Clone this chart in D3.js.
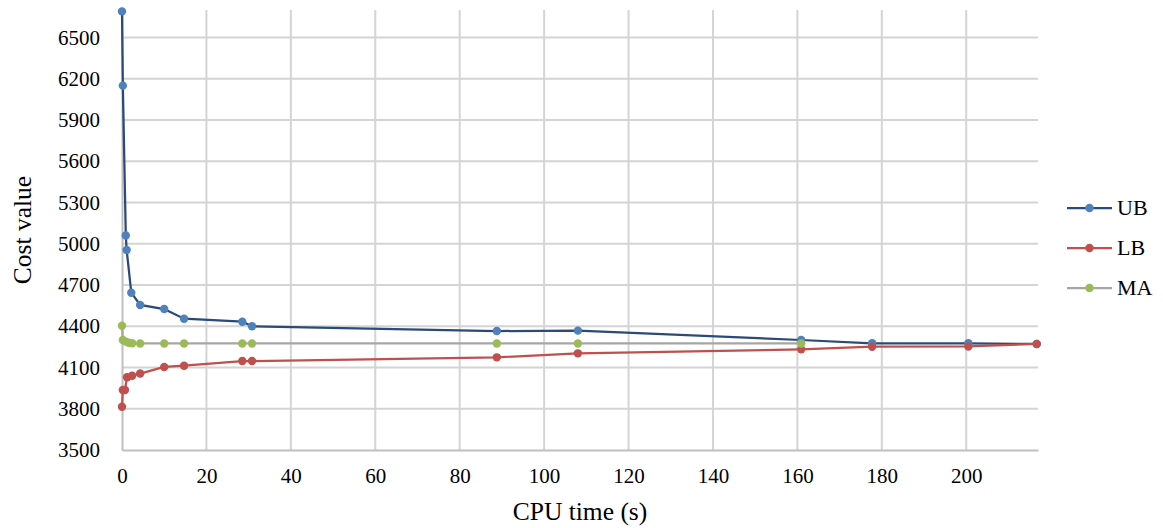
<!DOCTYPE html>
<html>
<head>
<meta charset="utf-8">
<script src="https://cdn.jsdelivr.net/npm/d3@7"></script>
<style>
  html, body { margin: 0; padding: 0; background: #ffffff; }
  svg { display: block; }
  svg text { fill: #000; }
</style>
</head>
<body>
<svg id="chart" width="1163" height="528"></svg>
<script>
// ---- data ----
const timeUB = [0, 0.2, 0.9, 1.1, 2.2, 4.3, 10, 14.7, 28.5, 30.8, 88.8, 108, 160.9, 177.7, 200.5, 216.7];
const valUB  = [6690, 6150, 5060, 4955, 4644, 4555, 4525, 4455, 4433, 4400, 4365, 4368, 4300, 4276, 4276, 4271];

const timeLB = [0, 0.2, 0.7, 1.2, 2.4, 4.3, 10, 14.7, 28.5, 30.8, 88.8, 108, 160.9, 177.7, 200.5, 216.7];
const valLB  = [3815, 3936, 3936, 4029, 4040, 4056, 4104, 4113, 4147, 4147, 4174, 4203, 4232, 4251, 4253, 4271];

const timeMA = [0, 0.2, 0.9, 1.6, 2.4, 4.3, 10, 14.7, 28.5, 30.8, 88.8, 108, 160.9];
const valMA  = [4404, 4300, 4288, 4280, 4276, 4275, 4275, 4275, 4275, 4275, 4275, 4275, 4275];

const seriesNames = ["UB", "LB", "MA"];
const xTicks = [0, 20, 40, 60, 80, 100, 120, 140, 160, 180, 200];
const yTicks = [3500, 3800, 4100, 4400, 4700, 5000, 5300, 5600, 5900, 6200, 6500];
const xDomain = [0, 217];
const yDomain = [3500, 6700];

// ---- layout ----
const svg = d3.select("#chart");
const plot = { left: 122, top: 10, right: 1038, bottom: 450 };
const x = d3.scaleLinear().domain(xDomain).range([plot.left, plot.right]);
const y = d3.scaleLinear().domain(yDomain).range([plot.bottom, plot.top]);
const serif = "Liberation Serif";

const styles = {
  UB: { line: "#2B4A78", marker: "#4F81BD" },
  LB: { line: "#C0504D", marker: "#C0504D" },
  MA: { line: "#A6A6A6", marker: "#9BBB59" }
};

// gridlines
const grid = svg.append("g");
grid.selectAll("line.h").data(yTicks.filter(d => d > yDomain[0])).join("line")
  .attr("x1", plot.left).attr("x2", plot.right)
  .attr("y1", d => y(d)).attr("y2", d => y(d))
  .attr("stroke", "#d4d4d4").attr("stroke-width", 2);
grid.selectAll("line.v").data(xTicks.filter(d => d > xDomain[0])).join("line")
  .attr("x1", d => x(d)).attr("x2", d => x(d))
  .attr("y1", plot.top).attr("y2", plot.bottom)
  .attr("stroke", "#d4d4d4").attr("stroke-width", 2);

// axes
const yAxis = d3.axisLeft(y).tickValues(yTicks).tickFormat(d3.format("d")).tickSize(0).tickPadding(22);
const gy = svg.append("g").attr("transform", `translate(${plot.left},0)`).call(yAxis)
  .attr("font-family", serif).attr("font-size", 21);
gy.select(".domain").attr("stroke", "#bfbfbf").attr("stroke-width", 2);

const xAxis = d3.axisBottom(x).tickValues(xTicks).tickFormat(d3.format("d")).tickSize(0).tickPadding(18);
const gx = svg.append("g").attr("transform", `translate(0,${plot.bottom})`).call(xAxis)
  .attr("font-family", serif).attr("font-size", 21);
gx.select(".domain").attr("stroke", "#bfbfbf").attr("stroke-width", 2);

// axis titles
svg.append("text").attr("x", 580).attr("y", 520).attr("text-anchor", "middle")
  .attr("font-family", serif).attr("font-size", 25.5).text("CPU time (s)");
svg.append("text").attr("transform", "translate(31,230) rotate(-90)").attr("text-anchor", "middle")
  .attr("font-family", serif).attr("font-size", 25.5).text("Cost value");

// series
const data = [
  { name: "UB", xs: timeUB, ys: valUB },
  { name: "LB", xs: timeLB, ys: valLB },
  { name: "MA", xs: timeMA, ys: valMA }
];
const line = d3.line().x(d => x(d[0])).y(d => y(d[1]));
data.forEach(s => {
  const pts = s.xs.map((t, i) => [t, s.ys[i]]);
  const g = svg.append("g");
  g.append("path").datum(pts).attr("d", line)
    .attr("fill", "none").attr("stroke", styles[s.name].line).attr("stroke-width", 2.25);
  g.selectAll("circle").data(pts).join("circle")
    .attr("cx", d => x(d[0])).attr("cy", d => y(d[1])).attr("r", 4.2)
    .attr("fill", styles[s.name].marker);
});

// legend
const legend = svg.append("g");
seriesNames.forEach((n, i) => {
  const ly = 208 + i * 40;
  legend.append("line").attr("x1", 1067).attr("x2", 1112).attr("y1", ly).attr("y2", ly)
    .attr("stroke", styles[n].line).attr("stroke-width", 2.25);
  legend.append("circle").attr("cx", 1089.5).attr("cy", ly).attr("r", 4.2).attr("fill", styles[n].marker);
  legend.append("text").attr("x", 1117).attr("y", ly + 7)
    .attr("font-family", serif).attr("font-size", 22).text(n);
});
</script>
</body>
</html>
